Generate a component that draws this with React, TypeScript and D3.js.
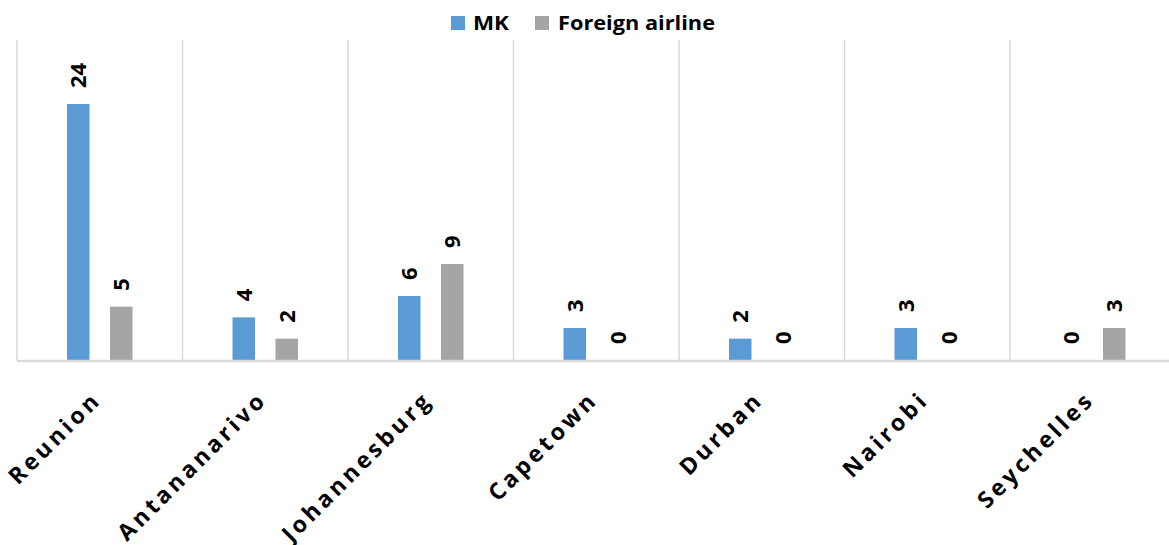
import React from "react";
import * as d3 from "d3";

const categories = ["Reunion", "Antananarivo", "Johannesburg", "Capetown", "Durban", "Nairobi", "Seychelles"];
const seriesNames = ["MK", "Foreign airline"];
const mkValues = [24, 4, 6, 3, 2, 3, 0];
const foreignValues = [5, 2, 9, 0, 0, 0, 3];
const seriesColors = ["#5B9BD5", "#A5A5A5"];
const yDomain = [0, 30];

const W = 1169;
const H = 545;
const left = 17;
const band = 165.5;
const top = 40;
const baseY = 360;

export default function App() {
  const x = d3.scaleBand<string>().domain(categories).range([left, left + band * categories.length]).padding(0);
  const xs = d3.scaleBand<string>().domain(seriesNames).range([0, x.bandwidth()]).paddingInner(0.477).paddingOuter(1.163);
  const y = d3.scaleLinear().domain(yDomain).range([baseY, top]);
  const series = [mkValues, foreignValues];
  const font = "'Open Sans', sans-serif";

  return (
    <svg width={W} height={H} style={{ position: "absolute", left: 0, top: 0, background: "#fff" }}>
      {categories.map((c) => (
        <line key={"g" + c} x1={x(c)!} x2={x(c)!} y1={top} y2={baseY + 1} stroke="#d9d9d9" strokeWidth={1.5} />
      ))}
      {series.map((vals, si) =>
        vals.map((v, i) => {
          const c = categories[i];
          const bx = x(c)! + xs(seriesNames[si])!;
          return (
            <rect key={`b${si}-${i}`} x={bx} y={y(v)} width={xs.bandwidth()} height={baseY - y(v)} fill={seriesColors[si]} />
          );
        })
      )}
      <line x1={left} x2={left + band * categories.length} y1={baseY + 1} y2={baseY + 1} stroke="#d9d9d9" strokeWidth={2.5} />
      {series.map((vals, si) =>
        vals.map((v, i) => {
          const c = categories[i];
          const cx = x(c)! + xs(seriesNames[si])! + xs.bandwidth() / 2;
          const ty = y(v) - 16;
          return (
            <text
              key={`l${si}-${i}`}
              transform={`translate(${cx},${ty}) rotate(-90)`}
              dy="0.36em"
              textAnchor="start"
              fontFamily={font}
              fontWeight="bold"
              fontSize={22}
              fill="#000"
            >
              {v}
            </text>
          );
        })
      )}
      {categories.map((c) => {
        const cx = x(c)! + x.bandwidth() / 2;
        return (
          <text
            key={"x" + c}
            transform={`translate(${cx + 3},${401}) rotate(-45)`}
            textAnchor="end"
            fontFamily={font}
            fontWeight="bold"
            fontSize={23}
            letterSpacing={3.5}
            fill="#000"
          >
            {c}
          </text>
        );
      })}
      <rect x={451} y={16} width={14} height={14} fill={seriesColors[0]} />
      <text x={473} y={29.5} fontFamily={font} fontWeight="bold" fontSize={19} textLength={36} lengthAdjust="spacingAndGlyphs">
        {seriesNames[0]}
      </text>
      <rect x={535} y={16} width={14} height={14} fill={seriesColors[1]} />
      <text x={558} y={29.5} fontFamily={font} fontWeight="bold" fontSize={19} textLength={157} lengthAdjust="spacingAndGlyphs">
        {seriesNames[1]}
      </text>
    </svg>
  );
}
